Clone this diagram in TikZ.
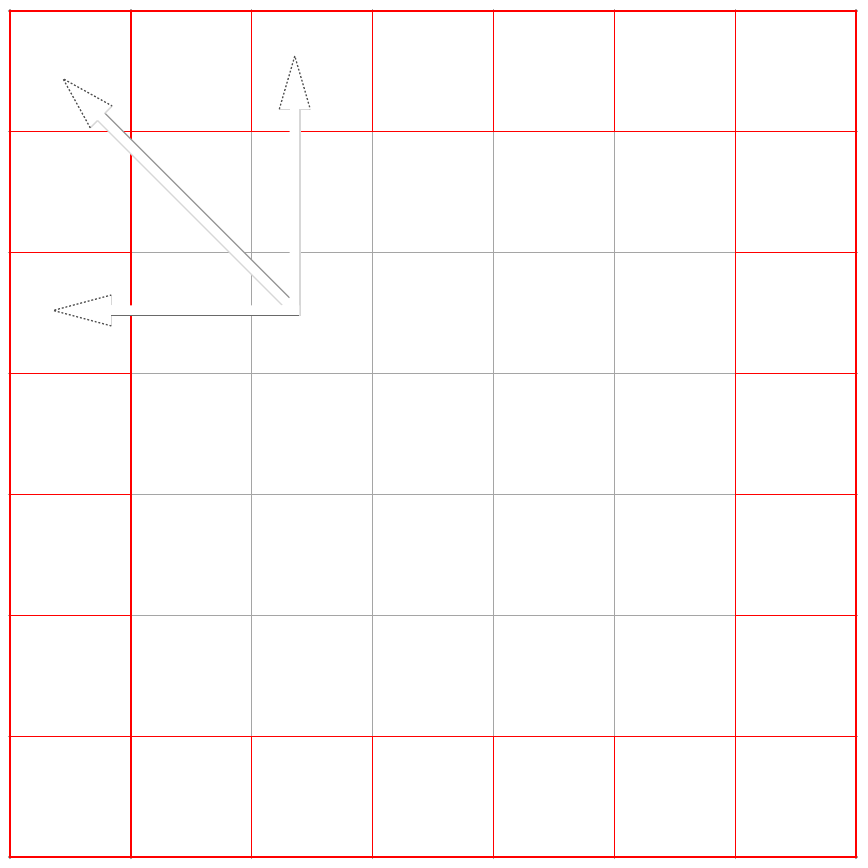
\documentclass[tikz,border=0pt]{standalone}
\definecolor{gridgray}{RGB}{165,165,165}
\definecolor{edgelight}{RGB}{215,215,215}
\definecolor{edgemid}{RGB}{150,150,150}
\definecolor{edgedark}{RGB}{105,105,105}
\definecolor{headdark}{RGB}{80,80,80}
\tikzset{
  gridline/.style={draw=gridgray,line width=0.3pt},
  ringline/.style={draw=red,line width=0.3pt},
  headbase/.style={draw=edgelight,line width=0.3pt},
  headside/.style={draw=headdark,line width=0.3pt,dash pattern=on 0.45pt off 0.45pt},
  noedge/.style={draw=none},
}
% #1 origin, #2 angle, #3 start, #4 head base, #5 tip, #6 style of +y edge, #7 style of -y edge
\newcommand\fatarrow[7]{%
  \begin{scope}[shift={#1},rotate=#2]
    \fill[white] (#3,0.043) -- (#4,0.043) -- (#4,0.128) -- (#5,0) -- (#4,-0.128) -- (#4,-0.043) -- (#3,-0.043) -- cycle;
    \draw[#6] (#3,0.043) -- (#4,0.043);
    \draw[#7] (#3,-0.043) -- (#4,-0.043);
    \draw[headbase] (#4,0.043) -- (#4,0.128);
    \draw[headbase] (#4,-0.043) -- (#4,-0.128);
    \draw[headside] (#4,0.128) -- (#5,0) -- (#4,-0.128);
  \end{scope}}
\begin{document}
\begin{tikzpicture}[x=1cm,y=1cm]
  \useasboundingbox (-0.083,-0.091) rectangle (7.099,7.091);
  % gray grid
  \draw[gridline] (-0.02,-0.02) grid (7.02,7.02);
  % red outer ring of cells
  \draw[ringline] (0,0) rectangle (7,7);
  \draw[ringline] (1,1) rectangle (6,6);
  \foreach \k in {1,...,6} {
    \draw[ringline] (\k,6) -- (\k,7);
    \draw[ringline] (\k,0) -- (\k,1);
    \draw[ringline] (0,\k) -- (1,\k);
    \draw[ringline] (6,\k) -- (7,\k);
  }
  % arrows
  \coordinate (O) at (2.356,4.522);
  \fatarrow{(O)}{135}{0.105}{2.265}{2.712}{draw=edgelight,line width=0.3pt}{draw=edgemid,line width=0.3pt}
  \fatarrow{(O)}{90}{-0.047}{1.665}{2.106}{noedge}{draw=edgelight,line width=0.3pt}
  \fatarrow{(O)}{180}{-0.038}{1.518}{1.998}{draw=edgedark,line width=0.3pt}{noedge}
\end{tikzpicture}
\end{document}
